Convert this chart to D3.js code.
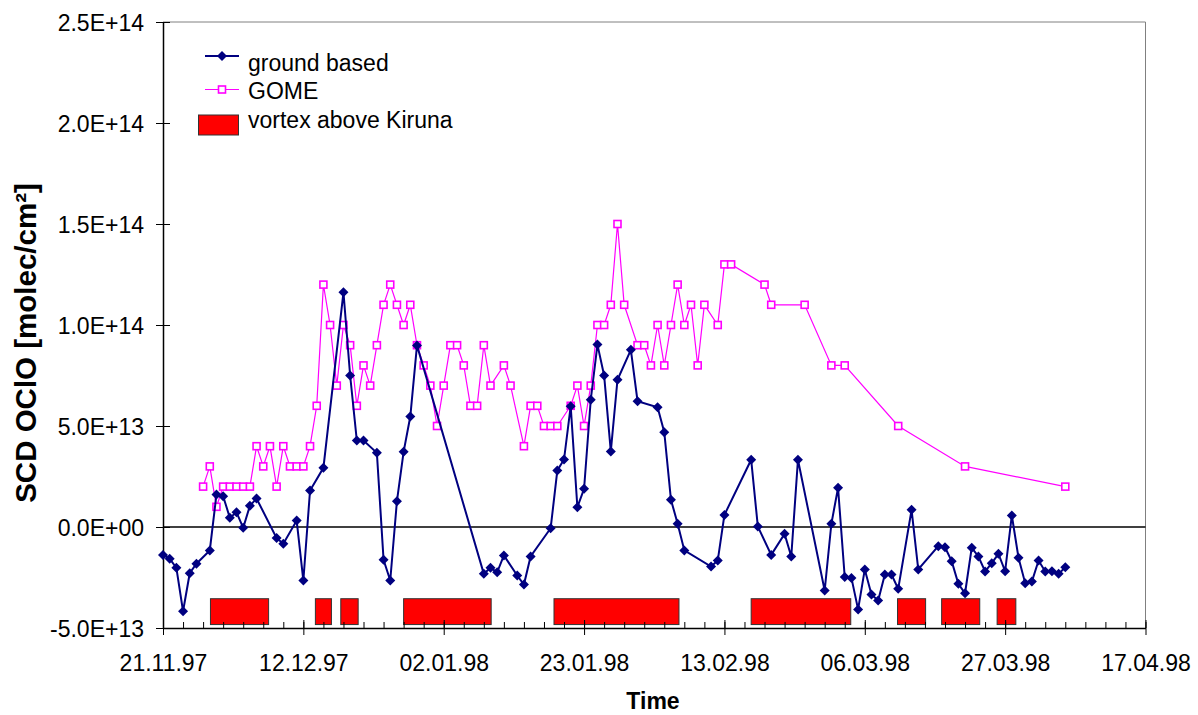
<!DOCTYPE html>
<html>
<head>
<meta charset="utf-8">
<script src="https://cdn.jsdelivr.net/npm/d3@7"></script>
<style>
  html, body { margin: 0; padding: 0; background: #fff; }
  svg { display: block; font-family: "Liberation Sans", Arial, sans-serif; }
</style>
</head>
<body>
<svg id="chart" width="1198" height="715"></svg>
<script>
// Days are counted from 21 Nov 1997 (day 0).
const startDate = Date.UTC(1997, 10, 21);

// Ground-based SCD OClO (units of 1E13 molec/cm²)
const groundDays = [0, 1, 2, 3, 4, 5, 7, 8, 9, 10, 11, 12, 13, 14, 17, 18, 20, 21, 22, 24,
  27, 28, 29, 30, 32, 33, 34, 35, 36, 37, 38, 48, 49, 50, 51, 53, 54, 55, 58, 59,
  60, 61, 62, 63, 64, 65, 66, 67, 68, 70, 71, 74, 75, 76, 77, 78, 82, 83, 84, 88,
  89, 91, 93, 94, 95, 99, 100, 101, 102, 103, 104, 105, 106, 107, 108, 109, 110, 112, 113, 116,
  117, 118, 119, 120, 121, 122, 123, 124, 125, 126, 127, 128, 129, 130, 131, 132, 133, 134, 135];
const groundValues = [-1.38, -1.57, -2.02, -4.17, -2.29, -1.82, -1.16, 1.61, 1.52, 0.46, 0.73, -0.04, 1.05, 1.41, -0.55, -0.83, 0.32, -2.65, 1.81, 2.93,
  11.62, 7.5, 4.28, 4.28, 3.67, -1.62, -2.65, 1.28, 3.72, 5.47, 8.99, -2.32, -2.02, -2.24, -1.41, -2.40, -2.85, -1.46, -0.06, 2.80,
  3.34, 5.98, 0.98, 1.89, 6.30, 9.03, 7.5, 3.74, 7.29, 8.77, 6.23, 5.93, 4.69, 1.35, 0.16, -1.16, -1.96, -1.66, 0.60, 3.33,
  0.02, -1.38, -0.34, -1.46, 3.33, -3.14, 0.16, 1.94, -2.48, -2.52, -4.08, -2.10, -3.34, -3.64, -2.35, -2.35, -3.06, 0.85, -2.10, -0.95,
  -1.00, -1.69, -2.81, -3.28, -1.03, -1.46, -2.20, -1.79, -1.33, -2.19, 0.57, -1.52, -2.78, -2.70, -1.66, -2.20, -2.19, -2.32, -1.99];

// GOME SCD OClO (units of 1E13 molec/cm²)
const gomeDays = [6, 7, 8, 9, 10, 11, 12, 13, 14, 15, 16, 17, 18, 19, 20, 21, 22, 23, 24, 25,
  26, 27, 28, 29, 30, 31, 32, 33, 34, 35, 36, 37, 38, 39, 40, 41, 42, 43, 44, 45,
  46, 47, 48, 49, 51, 52, 54, 55, 56, 57, 58, 59, 61, 62, 63, 64, 65, 66, 67, 68,
  69, 71, 72, 73, 74, 75, 76, 77, 78, 79, 80, 81, 83, 84, 85, 90, 91, 96, 100, 102,
  110, 120, 135];
const gomeValues = [2, 3, 1, 2, 2, 2, 2, 2, 4, 3, 4, 2, 4, 3, 3, 3, 4, 6, 12, 10,
  7, 10, 9, 6, 8, 7, 9, 11, 12, 11, 10, 11, 9, 8, 7, 5, 7, 9, 9, 8,
  6, 6, 9, 7, 8, 7, 4, 6, 6, 5, 5, 5, 6, 7, 5, 7, 10, 10, 11, 15,
  11, 9, 9, 8, 10, 8, 10, 12, 10, 11, 8, 11, 10, 13, 13, 12, 11, 11, 8, 8,
  5, 3, 2];

// Periods with the polar vortex above Kiruna (start/end, days)
const vortexStart = [7.1, 22.8, 26.6, 36.0, 58.5, 88.0, 109.9, 116.5, 124.8];
const vortexEnd   = [15.8, 25.2, 29.2, 49.1, 77.2, 102.9, 114.1, 122.2, 127.6];
const vortexTop = -3.55e13;
const vortexBase = -4.83e13;

// Axis ticks
const xTickDays = [0, 21, 42, 63, 84, 105, 126, 147];
const xTickLabels = ["21.11.97", "12.12.97", "02.01.98", "23.01.98", "13.02.98", "06.03.98", "27.03.98", "17.04.98"];
const yTicks = [-5e13, 0, 5e13, 1e14, 1.5e14, 2e14, 2.5e14];
const yTickLabels = ["-5.0E+13", "0.0E+00", "5.0E+13", "1.0E+14", "1.5E+14", "2.0E+14", "2.5E+14"];

const seriesNames = ["ground based", "GOME", "vortex above Kiruna"];

const dayToDate = d => new Date(startDate + d * 864e5);

const ground = groundDays.map((d, i) => ({ date: dayToDate(d), value: groundValues[i] * 1e13 }));
const gome = gomeDays.map((d, i) => ({ date: dayToDate(d), value: gomeValues[i] * 1e13 }));
const vortex = vortexStart.map((s, i) => ({ start: dayToDate(s), end: dayToDate(vortexEnd[i]) }));

const plotLeft = 163, plotRight = 1145.5, plotTop = 22, plotBottom = 628;
const FONT = 23;

const svg = d3.select("#chart");

const x = d3.scaleUtc().domain([dayToDate(0), dayToDate(147)]).range([plotLeft, plotRight]);
const y = d3.scaleLinear().domain([-5e13, 2.5e14]).range([plotBottom, plotTop]);

// plot frame (top and right)
svg.append("path")
  .attr("d", `M${plotLeft},${plotTop}H${plotRight}V${plotBottom}`)
  .attr("fill", "none").attr("stroke", "#808080").attr("stroke-width", 1);

// vortex periods
svg.append("g").selectAll("rect").data(vortex).join("rect")
  .attr("x", d => x(d.start))
  .attr("width", d => x(d.end) - x(d.start))
  .attr("y", y(vortexTop))
  .attr("height", y(vortexBase) - y(vortexTop))
  .attr("fill", "#ff0000").attr("stroke", "#333").attr("stroke-width", 1);

// zero line
svg.append("line")
  .attr("x1", plotLeft).attr("x2", plotRight)
  .attr("y1", y(0)).attr("y2", y(0))
  .attr("stroke", "#000").attr("stroke-width", 1.5);

// minor x ticks every 3 days
const minorDays = d3.range(0, 148, 3).map(dayToDate);
svg.append("g")
  .attr("transform", `translate(0,${plotBottom})`)
  .call(d3.axisBottom(x).tickValues(minorDays).tickSize(-6).tickSizeOuter(0).tickFormat(""))
  .call(g => g.select(".domain").remove())
  .call(g => g.selectAll(".tick line").attr("stroke", "#000"));

// major x ticks with labels
const xAxis = svg.append("g")
  .attr("transform", `translate(0,${plotBottom})`)
  .call(d3.axisBottom(x)
    .tickValues(xTickDays.map(dayToDate))
    .tickSize(7).tickSizeOuter(0)
    .tickFormat((d, i) => xTickLabels[i]));
xAxis.select(".domain").attr("stroke", "#000").attr("stroke-width", 1.5);
xAxis.selectAll(".tick line").attr("stroke", "#000").attr("y1", -8);
xAxis.selectAll(".tick text")
  .attr("y", 43).attr("dy", 0)
  .attr("fill", "#000")
  .style("font-size", FONT + "px")
  .style("font-family", '"Liberation Sans", Arial, sans-serif');

// y axis
const yAxis = svg.append("g")
  .attr("transform", `translate(${plotLeft},0)`)
  .call(d3.axisLeft(y)
    .tickValues(yTicks)
    .tickSize(7).tickSizeOuter(0)
    .tickFormat((d, i) => yTickLabels[i]));
yAxis.select(".domain").attr("stroke", "#000").attr("stroke-width", 1.5);
yAxis.selectAll(".tick line").attr("stroke", "#000").attr("x1", 7);
yAxis.selectAll(".tick text")
  .attr("x", -19).attr("dy", "0.35em")
  .attr("fill", "#000")
  .style("font-size", FONT + "px")
  .style("font-family", '"Liberation Sans", Arial, sans-serif');

// GOME series
const line = d3.line().x(d => x(d.date)).y(d => y(d.value));
svg.append("path").datum(gome)
  .attr("d", line).attr("fill", "none")
  .attr("stroke", "#ff00ff").attr("stroke-width", 1.2);
svg.append("g").selectAll("rect").data(gome).join("rect")
  .attr("x", d => x(d.date) - 3.5).attr("y", d => y(d.value) - 3.5)
  .attr("width", 7).attr("height", 7)
  .attr("fill", "#fff").attr("stroke", "#ff00ff").attr("stroke-width", 1.6);

// ground-based series
const diamond = (cx, cy, r) => `M${cx},${cy - r}L${cx + r},${cy}L${cx},${cy + r}L${cx - r},${cy}Z`;
svg.append("path").datum(ground)
  .attr("d", line).attr("fill", "none")
  .attr("stroke", "#000080").attr("stroke-width", 2);
svg.append("g").selectAll("path").data(ground).join("path")
  .attr("d", d => diamond(x(d.date), y(d.value), 5))
  .attr("fill", "#000080");

// legend
const lg = svg.append("g").style("font-size", FONT + "px");
lg.append("line").attr("x1", 205).attr("x2", 239).attr("y1", 56).attr("y2", 56)
  .attr("stroke", "#000080").attr("stroke-width", 2);
lg.append("path").attr("d", diamond(222, 56, 5)).attr("fill", "#000080");
lg.append("text").attr("x", 248).attr("y", 71).text(seriesNames[0]);

lg.append("line").attr("x1", 205).attr("x2", 239).attr("y1", 89.5).attr("y2", 89.5)
  .attr("stroke", "#ff00ff").attr("stroke-width", 1.2);
lg.append("rect").attr("x", 218.5).attr("y", 86).attr("width", 7).attr("height", 7)
  .attr("fill", "#fff").attr("stroke", "#ff00ff").attr("stroke-width", 1.6);
lg.append("text").attr("x", 248).attr("y", 98.5).text(seriesNames[1]);

lg.append("rect").attr("x", 198.5).attr("y", 115).attr("width", 40).attr("height", 20)
  .attr("fill", "#ff0000").attr("stroke", "#333").attr("stroke-width", 1);
lg.append("text").attr("x", 248).attr("y", 127.5).text(seriesNames[2]);

// axis titles
svg.append("text")
  .attr("x", 653).attr("y", 709)
  .attr("text-anchor", "middle")
  .style("font-size", "23px").style("font-weight", "bold")
  .text("Time");

svg.append("text")
  .attr("transform", "translate(36,343) rotate(-90)")
  .attr("text-anchor", "middle")
  .style("font-size", "29.5px").style("font-weight", "bold")
  .text("SCD OClO [molec/cm²]");
</script>
</body>
</html>
